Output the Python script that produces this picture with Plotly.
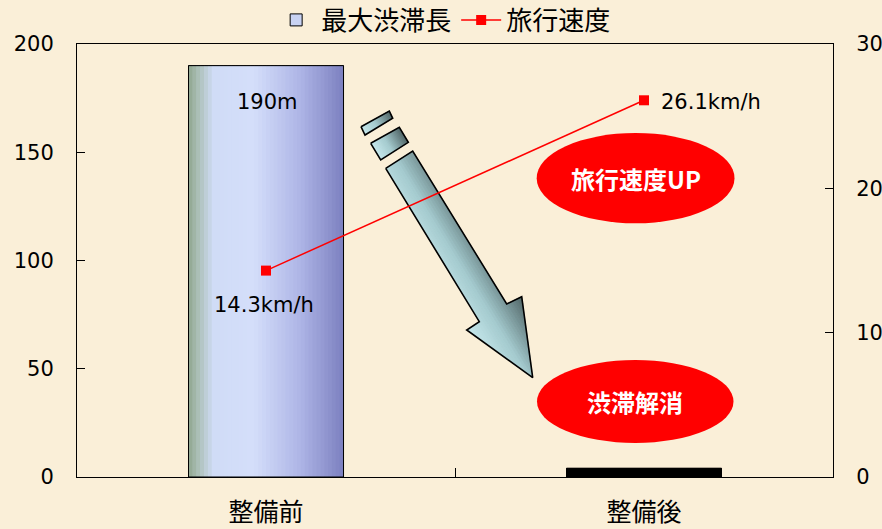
import plotly.graph_objects as go

# ---------------- data ----------------
categories = ["整備前", "整備後"]
max_queue_m = [190, 4]
travel_speed_kmh = [14.3, 26.1]
queue_labels = ["190m", ""]
speed_labels = ["14.3km/h", "26.1km/h"]
left_ticks = [0, 50, 100, 150, 200]
right_ticks = [0, 10, 20, 30]
bubble_texts = ["旅行速度UP", "渋滞解消"]

# ---------------- layout constants ----------------
W, H = 882, 529
ML, MR, MT, MB = 77, 49, 44, 52
PW, PH = W - ML - MR, H - MT - MB
XR = [-0.5, len(categories) - 0.5]
YR = [0, 200]
Y2R = [0, 30]
BG = "#FAEFD8"
NUM_FONT = "DejaVu Sans, Noto Sans CJK JP"
CJK_FONT = "Noto Sans CJK JP, DejaVu Sans"

xpos = list(range(len(categories)))


def px_to_data(px, py):
    xd = XR[0] + (px - ML) / PW * (XR[1] - XR[0])
    yd = YR[0] + (MT + PH - py) / PH * (YR[1] - YR[0])
    return xd, yd


def px_to_paper(px, py):
    return (px - ML) / PW, (MT + PH - py) / PH


def hex2rgb(h):
    h = h.lstrip("#")
    return [int(h[i:i + 2], 16) for i in (0, 2, 4)]


def interp_color(stops, t):
    for (t0, c0), (t1, c1) in zip(stops[:-1], stops[1:]):
        if t0 <= t <= t1:
            f = 0 if t1 == t0 else (t - t0) / (t1 - t0)
            a, b = hex2rgb(c0), hex2rgb(c1)
            r = [round(a[k] + (b[k] - a[k]) * f) for k in range(3)]
            return "rgb(%d,%d,%d)" % tuple(r)
    return stops[-1][1]


def clip_half(poly, n, c, ge=True):
    def inside(p):
        v = n[0] * p[0] + n[1] * p[1]
        return v >= c if ge else v <= c

    def inter(p, q):
        vp = n[0] * p[0] + n[1] * p[1]
        vq = n[0] * q[0] + n[1] * q[1]
        t = (c - vp) / (vq - vp)
        return (p[0] + (q[0] - p[0]) * t, p[1] + (q[1] - p[1]) * t)

    out = []
    if not poly:
        return out
    prev = poly[-1]
    for cur in poly:
        if inside(cur):
            if not inside(prev):
                out.append(inter(prev, cur))
            out.append(cur)
        elif inside(prev):
            out.append(inter(prev, cur))
        prev = cur
    return out


fig = go.Figure()

# ---------------- bars ----------------
BAR_W = 0.41
fig.add_trace(go.Bar(
    x=xpos, y=max_queue_m, name="最大渋滞長",
    marker=dict(color=["#C9D3F3", "#000000"], line=dict(color="black", width=1)),
    width=BAR_W, showlegend=True, hoverinfo="skip",
))
bar_stops = [(0, "#8FA68F"), (0.06, "#AABEB4"), (0.16, "#D0DCF6"), (0.42, "#D4DEFA"),
             (0.72, "#AEB5E6"), (1.0, "#7C80C0")]
NS = 40
for i in range(NS):
    fig.add_trace(go.Bar(
        x=[xpos[0]], y=[max_queue_m[0]],
        width=[BAR_W / NS * 1.15], offset=[-BAR_W / 2 + i * BAR_W / NS],
        marker=dict(color=interp_color(bar_stops, (i + 0.5) / NS), line=dict(width=0)),
        showlegend=False, hoverinfo="skip",
    ))
fig.add_trace(go.Bar(
    x=xpos, y=max_queue_m,
    marker=dict(color="rgba(0,0,0,0)", line=dict(color="black", width=1)),
    width=BAR_W, showlegend=False, hoverinfo="skip",
))

# ---------------- decorative arrow (gradient) ----------------
arrow_polys = [
    [(385.7, 168.3), (412.7, 151.0), (506.7, 304.0), (521.7, 296.7),
     (532.7, 377.7), (466.7, 330.0), (479.3, 321.7)],
    [(370.7, 143.3), (399.3, 127.3), (408.3, 142.3), (380.7, 160.0)],
    [(361.0, 126.7), (389.3, 111.0), (392.7, 118.3), (365.0, 135.0)],
]
arrow_stops = [(0, "#C6E8EC"), (0.45, "#A4CACE"), (1.0, "#526769")]
nrm = (0.854, -0.521)
NA = 24
for poly in arrow_polys:
    vs = [nrm[0] * p[0] + nrm[1] * p[1] for p in poly]
    vmin, vmax = min(vs), max(vs)
    for i in range(NA):
        lo = vmin + (vmax - vmin) * i / NA
        hi = vmin + (vmax - vmin) * (i + 1) / NA + 0.4
        piece = clip_half(clip_half(poly, nrm, lo, True), nrm, hi, False)
        if len(piece) < 3:
            continue
        dpts = [px_to_data(*p) for p in piece] + [px_to_data(*piece[0])]
        col = interp_color(arrow_stops, (i + 0.5) / NA)
        fig.add_trace(go.Scatter(
            x=[p[0] for p in dpts], y=[p[1] for p in dpts], mode="lines",
            fill="toself", fillcolor=col, line=dict(color=col, width=0.6),
            showlegend=False, hoverinfo="skip",
        ))
    dpts = [px_to_data(*p) for p in poly] + [px_to_data(*poly[0])]
    fig.add_trace(go.Scatter(
        x=[p[0] for p in dpts], y=[p[1] for p in dpts], mode="lines",
        line=dict(color="black", width=1.6), showlegend=False, hoverinfo="skip",
    ))

# ---------------- speed line ----------------
fig.add_trace(go.Scatter(
    x=xpos, y=travel_speed_kmh, name="旅行速度", yaxis="y2",
    mode="lines+markers",
    line=dict(color="#FF0000", width=1.5),
    marker=dict(symbol="square", size=10, color="#FF0000"),
    hoverinfo="skip",
))

annotations = []
annotations.append(dict(x=xpos[0], y=max_queue_m[0], xref="x", yref="y", text=queue_labels[0],
                        showarrow=False, yanchor="top", yshift=-22, xshift=1,
                        font=dict(family=NUM_FONT, size=21, color="black")))
annotations.append(dict(x=xpos[0], y=travel_speed_kmh[0], xref="x", yref="y2", text=speed_labels[0],
                        showarrow=False, yanchor="middle", yshift=-34, xshift=-2,
                        font=dict(family=NUM_FONT, size=21, color="black")))
annotations.append(dict(x=xpos[1], y=travel_speed_kmh[1], xref="x", yref="y2", text=speed_labels[1],
                        showarrow=False, xanchor="left", yanchor="middle", xshift=15, yshift=-2,
                        font=dict(family=NUM_FONT, size=21, color="black")))

# ---------------- red ellipses ----------------
shapes = []
ellipses = [(536.7, 133, 734.5, 223.3), (537, 360, 733.5, 443)]
for (x0, y0, x1, y1), txt in zip(ellipses, bubble_texts):
    px0, py1 = px_to_paper(x0, y0)
    px1, py0 = px_to_paper(x1, y1)
    shapes.append(dict(type="circle", xref="paper", yref="paper", x0=px0, x1=px1, y0=py0, y1=py1,
                       fillcolor="#FF0000", line=dict(width=0), layer="above"))
    cx, cy = px_to_paper((x0 + x1) / 2, (y0 + y1) / 2)
    annotations.append(dict(x=cx, y=cy, xref="paper", yref="paper", text="<b>%s</b>" % txt,
                            showarrow=False, xanchor="center", yanchor="middle",
                            font=dict(family=CJK_FONT, size=24, color="white")))

fig.update_layout(
    width=W, height=H,
    margin=dict(l=ML, r=MR, t=MT, b=MB, pad=0, autoexpand=False),
    paper_bgcolor=BG, plot_bgcolor=BG,
    barmode="overlay",
    showlegend=True,
    legend=dict(orientation="h", xref="container", yref="container",
                x=0.503, y=1 - 20 / H, xanchor="center", yanchor="middle",
                font=dict(family=CJK_FONT, size=26, color="black"),
                bgcolor="rgba(0,0,0,0)", itemwidth=40, tracegroupgap=0),
    xaxis=dict(range=XR, tickmode="array", tickvals=xpos, ticktext=categories,
               ticks="", showgrid=False, zeroline=False, automargin=False,
               showline=True, linecolor="black", linewidth=1, mirror=True,
               tickfont=dict(family=CJK_FONT, size=25, color="black"),
               ticklabelstandoff=13,
               minor=dict(tickmode="array", tickvals=[0.5], ticks="inside", ticklen=9,
                          tickcolor="black", tickwidth=1, showgrid=False)),
    yaxis=dict(range=YR, tickmode="array", tickvals=left_ticks, ticks="inside", ticklen=8,
               tickcolor="black", showgrid=False, zeroline=False, automargin=False,
               showline=True, linecolor="black", linewidth=1,
               tickfont=dict(family=NUM_FONT, size=21, color="black"),
               ticklabelstandoff=18),
    yaxis2=dict(range=Y2R, tickmode="array", tickvals=right_ticks, ticks="inside", ticklen=8,
                tickcolor="black", overlaying="y", side="right", showgrid=False, zeroline=False,
                automargin=False,
                showline=True, linecolor="black", linewidth=1,
                tickfont=dict(family=NUM_FONT, size=21, color="black"),
                ticklabelstandoff=18),
    shapes=shapes,
    annotations=annotations,
)

fig.write_html("out.html")
